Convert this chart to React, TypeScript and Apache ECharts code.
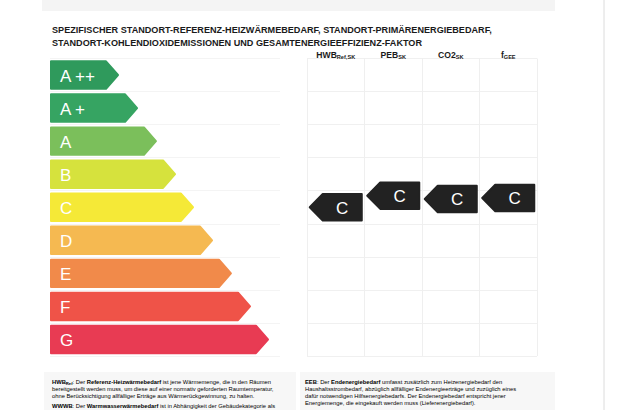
import React, { useEffect, useRef } from "react";
import * as echarts from "echarts";

// Energy classes (rows, top to bottom)
const classLabels = ["A ++", "A +", "A", "B", "C", "D", "E", "F", "G"];
const classColors = ["#2f9a5c", "#36a462", "#7bbf5b", "#d6e23d", "#f5e937", "#f5b951", "#f18a4a", "#ef5348", "#e83b53"];
// Arrow length of each class bar (0..100 scale)
const barLengths = [30, 38.3, 46.5, 54.8, 62.6, 70.9, 79.1, 87.4, 95.2];

// Indicator columns
const indicatorNames = ["HWB", "PEB", "CO2", "f"];
const indicatorSubs = ["Ref,SK", "SK", "SK", "GEE"];
const indicatorClasses = ["C", "C", "C", "C"];
// Vertical placement of each marker on the class scale (row centre of C = 4.5)
const indicatorLevels = [4.5, 4.15, 4.25, 4.22];

const titleText =
  "SPEZIFISCHER STANDORT-REFERENZ-HEIZWÄRMEBEDARF, STANDORT-PRIMÄRENERGIEBEDARF,\nSTANDORT-KOHLENDIOXIDEMISSIONEN UND GESAMTENERGIEEFFIZIENZ-FAKTOR";

const noteLeft =
  "{b|HWB}{bs|Ref}{n|: Der }{b|Referenz-Heizwärmebedarf}{n| ist jene Wärmemenge, die in den Räumen}\n" +
  "{n|bereitgestellt werden muss, um diese auf einer normativ geforderten Raumtemperatur,}\n" +
  "{n|ohne Berücksichtigung allfälliger Erträge aus Wärmerückgewinnung, zu halten.}";
const noteLeft2 =
  "{b|WWWB}{n|: Der }{b|Warmwasserwärmebedarf}{n| ist in Abhängigkeit der Gebäudekategorie als}";
const noteRight =
  "{b|EEB}{n|: Der }{b|Endenergiebedarf}{n| umfasst zusätzlich zum Heizenergiebedarf den}\n" +
  "{n|Haushaltsstrombedarf, abzüglich allfälliger Endenergieerträge und zuzüglich eines}\n" +
  "{n|dafür notwendigen Hilfsenergiebedarfs. Der Endenergiebedarf entspricht jener}\n" +
  "{n|Energiemenge, die eingekauft werden muss (Lieferenergiebedarf).}";

const FONT = "Liberation Sans, Arial, sans-serif";

const noteRich = {
  n: { fontSize: 5.8, fontFamily: FONT, color: "#333", lineHeight: 7 },
  b: { fontSize: 5.8, fontFamily: FONT, color: "#111", fontWeight: "bold", lineHeight: 7 },
  bs: { fontSize: 4.2, fontFamily: FONT, color: "#111", fontWeight: "bold", lineHeight: 7, verticalAlign: "bottom" },
};

export default function App() {
  const ref = useRef<HTMLDivElement>(null);

  useEffect(() => {
    document.body.style.margin = "0";
    const chart = echarts.init(ref.current!, undefined, { renderer: "svg" });

    const barData = barLengths.map((len, i) => [len, i + 0.5]);
    const markerData = indicatorLevels.map((lv, i) => [i + 0.5, lv]);

    chart.setOption({
      animation: false,
      backgroundColor: "#ffffff",
      title: {
        text: titleText,
        left: 47,
        top: 18,
        textStyle: {
          fontFamily: FONT,
          fontSize: 9.1,
          fontWeight: "bold",
          color: "#1a1a1a",
          lineHeight: 13,
        },
      },
      graphic: [
        { type: "rect", shape: { x: 42, y: 0, width: 513, height: 11 }, style: { fill: "#f4f4f4" }, z: -10 },
        { type: "line", shape: { x1: 604, y1: 0, x2: 604, y2: 410 }, style: { stroke: "#dcdcdc", lineWidth: 1 }, z: -10 },
        { type: "rect", shape: { x: 44, y: 372, width: 252, height: 38 }, style: { fill: "#f7f7f7" }, z: -10 },
        { type: "rect", shape: { x: 300, y: 372, width: 255, height: 38 }, style: { fill: "#f7f7f7" }, z: -10 },
        { type: "text", x: 52, y: 378, style: { text: noteLeft, rich: noteRich } },
        { type: "text", x: 52, y: 402, style: { text: noteLeft2, rich: noteRich } },
        { type: "text", x: 305, y: 378, style: { text: noteRight, rich: noteRich } },
      ],
      grid: [
        { left: 50, top: 58.5, width: 230, height: 297.5 },
        { left: 307, top: 58.5, width: 230, height: 297.5 },
      ],
      xAxis: [
        { type: "value", gridIndex: 0, min: 0, max: 100, show: false },
        {
          type: "value",
          gridIndex: 1,
          min: 0,
          max: 4,
          interval: 1,
          axisLine: { show: false },
          axisTick: { show: false },
          axisLabel: { show: false },
          splitLine: { show: true, lineStyle: { color: "#efefef", width: 1 } },
        },
        {
          type: "category",
          gridIndex: 1,
          position: "top",
          data: indicatorNames,
          axisLine: { show: false },
          axisTick: { show: false },
          axisLabel: {
            interval: 0,
            margin: -1,
            formatter: (v: string, i: number) => `{b|${v}}{s|${indicatorSubs[i]}}`,
            rich: {
              b: { fontFamily: FONT, fontSize: 8.6, fontWeight: "bold", color: "#1a1a1a" },
              s: { fontFamily: FONT, fontSize: 5.6, fontWeight: "bold", color: "#1a1a1a", verticalAlign: "bottom" },
            },
          },
        },
      ],
      yAxis: [
        {
          type: "value",
          gridIndex: 0,
          min: 0,
          max: 9,
          interval: 1,
          inverse: true,
          axisLine: { show: false },
          axisTick: { show: false },
          axisLabel: { show: false },
          splitLine: { show: true, lineStyle: { color: "#f4f4f4", width: 1 } },
        },
        {
          type: "value",
          gridIndex: 1,
          min: 0,
          max: 9,
          interval: 1,
          inverse: true,
          axisLine: { show: false },
          axisTick: { show: false },
          axisLabel: { show: false },
          splitLine: { show: true, lineStyle: { color: "#f0f0f0", width: 1 } },
        },
      ],
      series: [
        {
          type: "custom",
          name: "classes",
          xAxisIndex: 0,
          yAxisIndex: 0,
          data: barData,
          renderItem: (params: any, api: any) => {
            const i = params.dataIndex;
            const start = api.coord([0, api.value(1)]);
            const end = api.coord([api.value(0), api.value(1)]);
            const h = api.size([0, 1])[1] * 0.89;
            const x0 = start[0] + 1;
            const x1 = end[0] - 1;
            const cy = start[1];
            const tip = 12;
            const color = classColors[i];
            return {
              type: "group",
              children: [
                {
                  type: "polygon",
                  shape: {
                    points: [
                      [x0, cy - h / 2 + 1],
                      [x1 - tip, cy - h / 2 + 1],
                      [x1, cy],
                      [x1 - tip, cy + h / 2 - 1],
                      [x0, cy + h / 2 - 1],
                    ],
                  },
                  style: { fill: color, stroke: color, lineWidth: 2, lineJoin: "round" },
                },
                {
                  type: "text",
                  style: {
                    text: classLabels[i],
                    x: x0 + 9,
                    y: cy + 1,
                    verticalAlign: "middle",
                    fill: "#ffffff",
                    fontFamily: FONT,
                    fontSize: 17,
                  },
                },
              ],
            };
          },
        },
        {
          type: "custom",
          name: "indicators",
          xAxisIndex: 1,
          yAxisIndex: 1,
          data: markerData,
          renderItem: (params: any, api: any) => {
            const i = params.dataIndex;
            const c = api.coord([api.value(0), api.value(1)]);
            const sz = api.size([1, 1]);
            const w = sz[0] * 0.94;
            const h = sz[1] * 0.86;
            const xl = c[0] - w / 2 + 1;
            const xr = c[0] + w / 2 - 1;
            const cy = c[1];
            const tip = 13;
            return {
              type: "group",
              children: [
                {
                  type: "polygon",
                  shape: {
                    points: [
                      [xl, cy],
                      [xl + tip, cy - h / 2 + 1],
                      [xr, cy - h / 2 + 1],
                      [xr, cy + h / 2 - 1],
                      [xl + tip, cy + h / 2 - 1],
                    ],
                  },
                  style: { fill: "#222222", stroke: "#222222", lineWidth: 2, lineJoin: "round" },
                },
                {
                  type: "text",
                  style: {
                    text: indicatorClasses[i],
                    x: (xl + tip + xr) / 2,
                    y: cy + 1,
                    align: "center",
                    verticalAlign: "middle",
                    fill: "#ffffff",
                    fontFamily: FONT,
                    fontSize: 17,
                  },
                },
              ],
            };
          },
        },
      ],
    });

    return () => chart.dispose();
  }, []);

  return (
    <div
      ref={ref}
      style={{ position: "fixed", left: 0, top: 0, width: 620, height: 410 }}
    />
  );
}
